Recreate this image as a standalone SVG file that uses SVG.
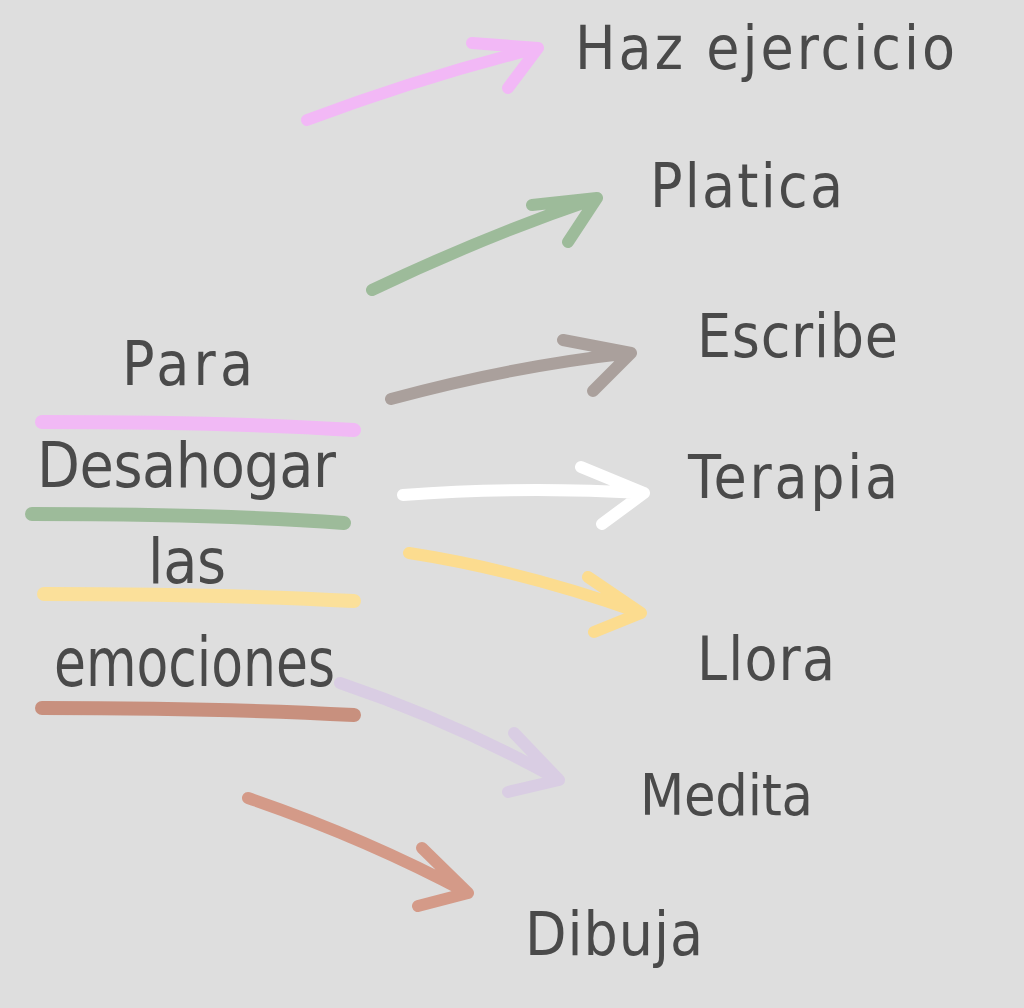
<svg xmlns="http://www.w3.org/2000/svg" width="1024" height="1008" viewBox="0 0 1024 1008">
<style>
.t{font-family:"DejaVu Sans Condensed","DejaVu Sans",sans-serif;fill:#4a4a4a;font-weight:normal}
.s{fill:none;stroke-linecap:round;stroke-linejoin:round}
.u{stroke-width:14}
.a{stroke-width:12}
</style>
<rect width="1024" height="1008" fill="#dedede"/>
<g id="title">
<text class="t" x="122" y="385" font-size="60" textLength="131" lengthAdjust="spacing">Para</text>
<text class="t" x="37" y="487" font-size="62" textLength="299" lengthAdjust="spacing">Desahogar</text>
<text class="t" x="148" y="583" font-size="62" textLength="78" lengthAdjust="spacing">las</text>
<text class="t" x="54" y="686" font-size="68" textLength="281" lengthAdjust="spacingAndGlyphs">emociones</text>
</g>
<g id="underlines" class="s u">
<path d="M42,422 C150,422 260,424 354,430" stroke="#f1b9f5"/>
<path d="M32,514 C140,514 250,516 344,523" stroke="#9dbb9a"/>
<path d="M44,594 C150,594 260,596 354,601" stroke="#fbe09a"/>
<path d="M42,708 C150,708 260,710 354,715" stroke="#c8907e"/>
</g>
<g id="connectors" class="s a">
<path d="M307,120 Q425,76 538,48 M472,43 L538,48 L508,88" stroke="#f2b8f6"/>
<path d="M372,290 Q485,236 597,198 M532,205 L597,198 L568,242" stroke="#9dbb9a"/>
<path d="M391,399 Q512,366 631,353 M563,340 L631,353 L593,391" stroke="#aaa09c"/>
<path d="M403,495 Q520,486 644,493 M581,467 L644,493 L602,524" stroke="#ffffff"/>
<path d="M409,553 Q520,570 641,613 M588,577 L641,613 L594,632" stroke="#fcdc8f"/>
<path d="M340,683 Q455,722 559,780 M514,733 L559,780 L508,792" stroke="#d9cde3"/>
<path d="M248,798 Q365,838 468,893 M422,848 L468,893 L418,906" stroke="#d49a88"/>
</g>
<g id="n1"><text class="t" x="575" y="69" font-size="60" textLength="380" lengthAdjust="spacing">Haz ejercicio</text></g>
<g id="n2"><text class="t" x="650" y="207" font-size="60" textLength="193" lengthAdjust="spacing">Platica</text></g>
<g id="n3"><text class="t" x="697" y="357" font-size="60" textLength="201" lengthAdjust="spacing">Escribe</text></g>
<g id="n4"><text class="t" x="688" y="498" font-size="60" textLength="210" lengthAdjust="spacing">Terapia</text></g>
<g id="n5"><text class="t" x="697" y="680" font-size="60" textLength="138" lengthAdjust="spacing">Llora</text></g>
<g id="n6"><text class="t" x="640" y="815" font-size="57" textLength="173" lengthAdjust="spacing">Medita</text></g>
<g id="n7"><text class="t" x="525" y="955" font-size="60" textLength="178" lengthAdjust="spacing">Dibuja</text></g>
</svg>
